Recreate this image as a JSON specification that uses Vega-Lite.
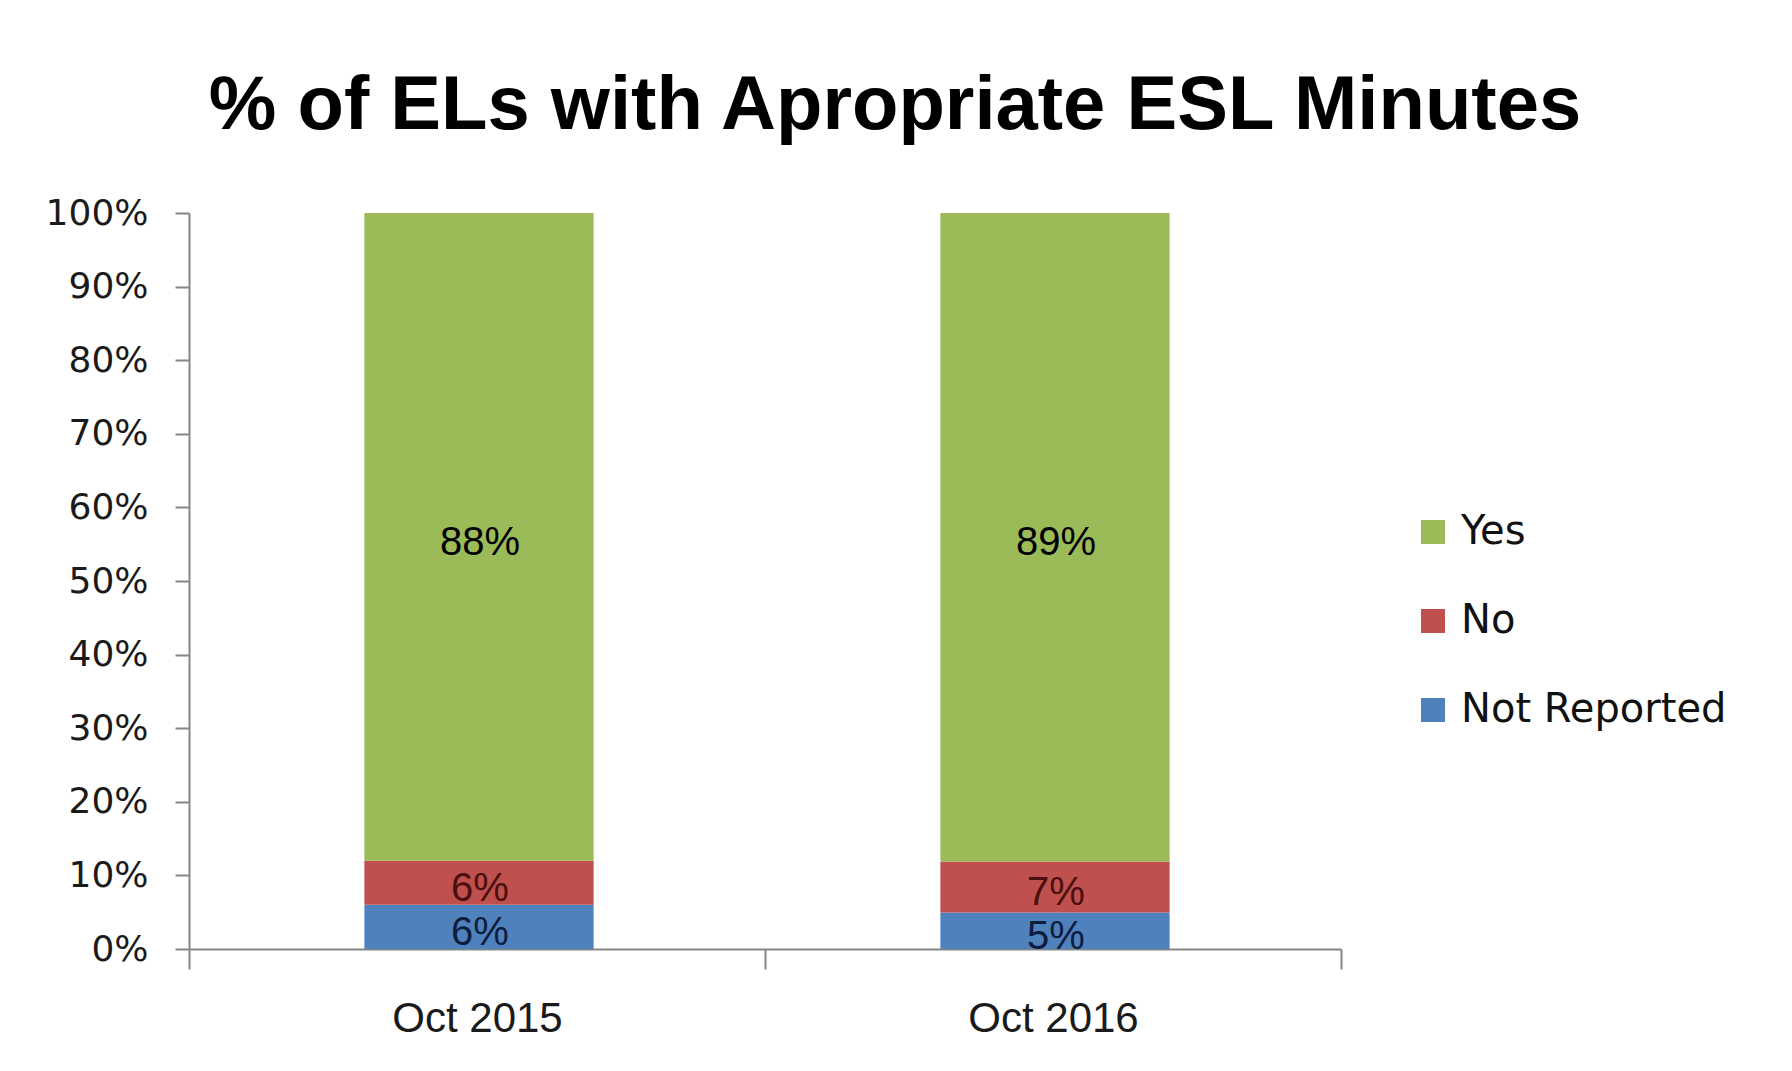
{
  "$schema": "https://vega.github.io/schema/vega-lite/v6.json",
  "autosize": {"type": "none"},
  "width": 1152,
  "height": 736,
  "padding": {"left": 189, "top": 213, "right": 451, "bottom": 122},
  "background": "white",
  "title": {
    "text": "% of ELs with Apropriate ESL Minutes",
    "font": "Liberation Sans",
    "fontSize": 76,
    "fontWeight": "bold",
    "color": "#000000",
    "frame": "group",
    "anchor": "middle",
    "baseline": "alphabetic",
    "offset": -10,
    "dx": 130
  },
  "config": {
    "view": {"stroke": null},
    "axis": {"grid": false, "domainColor": "#868686", "tickColor": "#868686", "domainWidth": 2, "tickWidth": 2}
  },
  "data": {
    "values": [
      {"period": "Oct 2015", "series": "Not Reported", "value": 6, "rank": 1, "label": "6%"},
      {"period": "Oct 2015", "series": "No", "value": 6, "rank": 2, "label": "6%"},
      {"period": "Oct 2015", "series": "Yes", "value": 88, "rank": 3, "label": "88%"},
      {"period": "Oct 2016", "series": "Not Reported", "value": 5, "rank": 1, "label": "5%"},
      {"period": "Oct 2016", "series": "No", "value": 7, "rank": 2, "label": "7%"},
      {"period": "Oct 2016", "series": "Yes", "value": 89, "rank": 3, "label": "89%"}
    ]
  },
  "encoding": {
    "x": {
      "field": "period",
      "type": "nominal",
      "scale": {"paddingInner": 0, "paddingOuter": 0},
      "axis": {
        "title": null,
        "labelAngle": 0,
        "labelFont": "Liberation Sans",
        "labelFontSize": 42,
        "labelColor": "#1a1a1a",
        "tickBand": "extent",
        "tickSize": 20,
        "labelPadding": 29
      }
    },
    "y": {
      "field": "value",
      "type": "quantitative",
      "stack": "normalize",
      "scale": {"domain": [0, 1]},
      "axis": {
        "title": null,
        "format": ".0%",
        "values": [0, 0.1, 0.2, 0.3, 0.4, 0.5, 0.6, 0.7, 0.8, 0.9, 1],
        "labelFont": "DejaVu Sans",
        "labelFontSize": 36,
        "labelColor": "#1a1a1a",
        "tickSize": 14,
        "labelPadding": 27
      }
    },
    "order": {"field": "rank", "type": "quantitative", "sort": "ascending"}
  },
  "layer": [
    {
      "mark": {"type": "bar", "width": {"band": 0.398}, "xOffset": 2},
      "encoding": {
        "color": {
          "field": "series",
          "type": "nominal",
          "scale": {"domain": ["Yes", "No", "Not Reported"], "range": ["#9BBB59", "#C0504D", "#4F81BD"]},
          "legend": {
            "title": null,
            "orient": "none",
            "legendX": 1224,
            "legendY": 299,
            "padding": 0,
            "symbolType": "square",
            "symbolSize": 576,
            "symbolStrokeWidth": 0,
            "symbolOpacity": 1,
            "labelFont": "DejaVu Sans",
            "labelFontSize": 40,
            "labelColor": "#111111",
            "labelOffset": 8,
            "labelLimit": 500,
            "rowPadding": 49
          }
        }
      }
    },
    {
      "mark": {"type": "text", "font": "Liberation Sans", "fontSize": 40, "baseline": "middle", "align": "center", "dy": 6, "dx": 3},
      "encoding": {
        "y": {"field": "value", "type": "quantitative", "stack": "normalize", "bandPosition": 0.5},
        "text": {"field": "label", "type": "nominal"},
        "color": {
          "condition": [
            {"test": "datum.series === 'No'", "value": "#4a0f0f"},
            {"test": "datum.series === 'Not Reported'", "value": "#0d1d3d"}
          ],
          "value": "#000000"
        }
      }
    }
  ]
}
